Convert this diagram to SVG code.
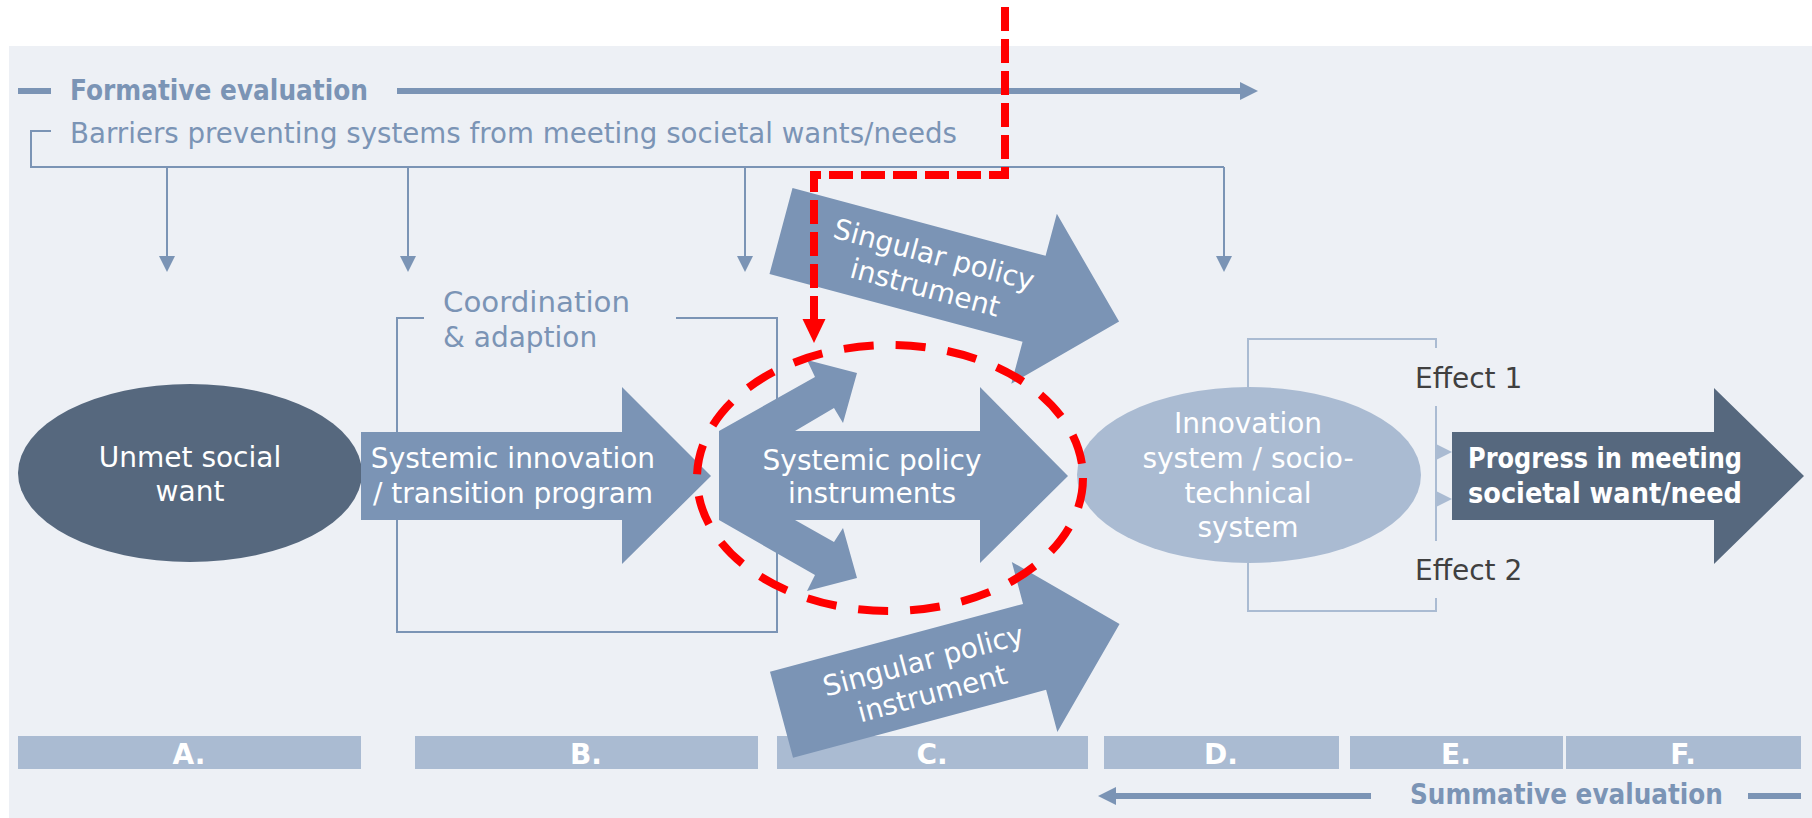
<svg xmlns="http://www.w3.org/2000/svg" width="1812" height="818" viewBox="0 0 1812 818">
<style>
.t{font-family:"DejaVu Sans","Liberation Sans",sans-serif;font-size:28px;}
.w{fill:#ffffff;}
.b{fill:#7b94b5;}
.bold{font-weight:bold;}
.mid{text-anchor:middle;}
.ln{fill:none;stroke:#7b94b5;stroke-width:2;}
.lnl{fill:none;stroke:#aabbd2;stroke-width:2;}
.arw{fill:#7b94b5;}
.bar{fill:#aabbd2;}
.red{fill:none;stroke:#ff0000;stroke-width:8;}
</style>
<rect x="0" y="0" width="1812" height="818" fill="#ffffff"/>
<rect x="9" y="46" width="1803" height="772" fill="#edf0f5"/>

<g id="formative">
<rect x="18" y="88" width="33" height="6" fill="#7b94b5"/>
<text class="t b bold" x="70" y="100" font-size="27" textLength="298" lengthAdjust="spacingAndGlyphs">Formative evaluation</text>
<rect x="397" y="88" width="845" height="6" fill="#7b94b5"/>
<polygon points="1240,82 1258,91 1240,100" fill="#7b94b5"/>
</g>

<g id="barriers">
<text class="t b" x="70" y="143" font-size="27.4" textLength="887" lengthAdjust="spacingAndGlyphs">Barriers preventing systems from meeting societal wants/needs</text>
</g>

<g id="connectors">
<path class="ln" d="M51,131 H31 V167 H1224"/>
<path class="ln" d="M167,167 V258 M408,167 V258 M745,167 V258 M1224,167 V258"/>
<polygon class="arw" points="159,256 175,256 167,272"/>
<polygon class="arw" points="400,256 416,256 408,272"/>
<polygon class="arw" points="737,256 753,256 745,272"/>
<polygon class="arw" points="1216,256 1232,256 1224,272"/>
<path class="ln" stroke-width="2.5" d="M424,318 H397 V632 H777 V318 H676"/>
<path class="lnl" d="M1248,387 V339 H1436 V348 M1436,406 V541 M1436,598 V611 H1248 V563"/>
<polygon points="1436,444 1452,452 1436,460" fill="#aabbd2"/>
<polygon points="1436,491 1452,499 1436,507" fill="#aabbd2"/>
</g>

<g id="coordination">
<text class="t b" x="443" y="312" textLength="187" lengthAdjust="spacingAndGlyphs">Coordination</text>
<text class="t b" x="443" y="347">&amp; adaption</text>
</g>

<g id="bars">
<rect class="bar" x="18" y="736" width="343" height="33"/>
<rect class="bar" x="415" y="736" width="343" height="33"/>
<rect class="bar" x="777" y="736" width="311" height="33"/>
<rect class="bar" x="1104" y="736" width="235" height="33"/>
<rect class="bar" x="1350" y="736" width="213" height="33"/>
<rect class="bar" x="1566" y="736" width="235" height="33"/>
<text class="t w bold mid" font-size="26" x="189" y="764">A.</text>
<text class="t w bold mid" font-size="26" x="586" y="764">B.</text>
<text class="t w bold mid" font-size="26" x="932" y="764">C.</text>
<text class="t w bold mid" font-size="26" x="1221" y="764">D.</text>
<text class="t w bold mid" font-size="26" x="1456" y="764">E.</text>
<text class="t w bold mid" font-size="26" x="1683" y="764">F.</text>
</g>

<g id="unmet">
<ellipse cx="190" cy="473" rx="172" ry="89" fill="#56687e"/>
<text class="t w mid" x="190" y="467">Unmet social</text>
<text class="t w mid" x="190" y="501">want</text>
</g>

<g id="systemic-program">
<polygon class="arw" points="361,432 622,432 622,387 711,476 622,564 622,520 361,520"/>
<text class="t w mid" x="513" y="468">Systemic innovation</text>
<text class="t w mid" x="513" y="503">/ transition program</text>
</g>

<g id="systemic-instruments">
<polygon class="arw" points="719,431 815,377 807,360 857,373 843,423 834,408 795,431 980,431 980,387 1068,476 980,563 980,520 795,520 834,542 843,528 857,578 807,591 815,575 719,520"/>
<text class="t w mid" x="872" y="470">Systemic policy</text>
<text class="t w mid" x="872" y="503">instruments</text>
</g>

<g id="singular-top" transform="translate(781,231) rotate(15)">
<polygon class="arw" points="0,-44.5 262,-44.5 262,-88 350,0 262,88 262,44.5 0,44.5"/>
<text class="t w mid" x="154" y="-7">Singular policy</text>
<text class="t w mid" x="154" y="27">instrument</text>
</g>

<g id="singular-bottom" transform="translate(781.5,714.7) rotate(-15)">
<polygon class="arw" points="0,-44.5 262,-44.5 262,-88 350,0 262,88 262,44.5 0,44.5"/>
<text class="t w mid" x="151" y="-6">Singular policy</text>
<text class="t w mid" x="151" y="28">instrument</text>
</g>

<g id="innovation-system">
<ellipse cx="1249" cy="475" rx="172" ry="88" fill="#aabbd2"/>
<text class="t w mid" font-size="27" x="1248" y="433">Innovation</text>
<text class="t w mid" font-size="27" x="1248" y="468">system / socio-</text>
<text class="t w mid" font-size="27" x="1248" y="503">technical</text>
<text class="t w mid" font-size="27" x="1248" y="537">system</text>
</g>

<g id="effects">
<text class="t" fill="#404040" font-size="26" x="1415" y="388">Effect 1</text>
<text class="t" fill="#404040" font-size="26" x="1415" y="580">Effect 2</text>
</g>

<g id="progress">
<polygon points="1452,432 1714,432 1714,388 1804,476 1714,564 1714,520 1452,520" fill="#56687e"/>
<text class="t w bold" x="1468" y="468" textLength="274" lengthAdjust="spacingAndGlyphs">Progress in meeting</text>
<text class="t w bold" x="1468" y="503" textLength="274" lengthAdjust="spacingAndGlyphs">societal want/need</text>
</g>

<g id="summative">
<rect x="1114" y="793" width="257" height="6" fill="#7b94b5"/>
<polygon points="1116,787 1098,796 1116,805" fill="#7b94b5"/>
<text class="t b bold" x="1410" y="804" font-size="26" textLength="313" lengthAdjust="spacingAndGlyphs">Summative evaluation</text>
<rect x="1748" y="793" width="53" height="6" fill="#7b94b5"/>
</g>

<g id="highlight">
<path class="red" stroke-dasharray="24 8" d="M1005,7 V175 H814 V321"/>
<polygon points="802.5,319 825.5,319 814,343" fill="#ff0000"/>
<ellipse class="red" cx="890" cy="478" rx="193" ry="133" stroke-width="7" stroke-dasharray="30 22"/>
</g>
</svg>
